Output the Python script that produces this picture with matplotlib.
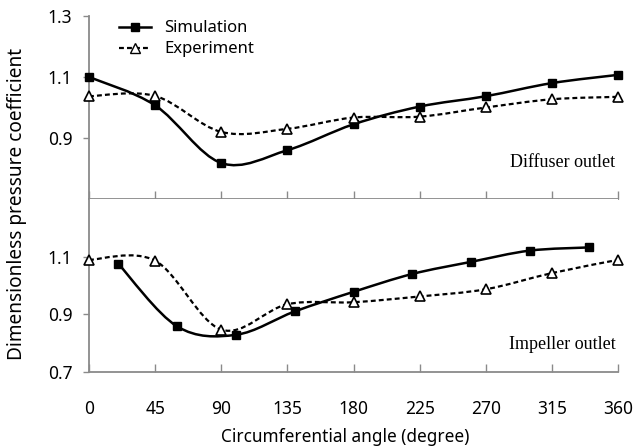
import numpy as np
import matplotlib
matplotlib.use("Agg")
import matplotlib.pyplot as plt
from matplotlib.path import Path
from matplotlib.patches import PathPatch

# Diffuser outlet
diff_angle = [0, 45, 90, 135, 180, 225, 270, 315, 360]
diff_sim = [1.10, 1.007, 0.818, 0.86, 0.945, 1.003, 1.037, 1.08, 1.107]
diff_exp = [1.037, 1.038, 0.92, 0.93, 0.967, 0.97, 1.0, 1.027, 1.035]

# Impeller outlet
imp_sim_angle = [20, 60, 100, 140, 180, 220, 260, 300, 340]
imp_sim = [1.075, 0.858, 0.829, 0.91, 0.978, 1.04, 1.082, 1.121, 1.132]
imp_exp_angle = [0, 45, 90, 135, 180, 225, 270, 315, 360]
imp_exp = [1.089, 1.086, 0.847, 0.935, 0.942, 0.962, 0.987, 1.043, 1.089]

xticks = [0, 45, 90, 135, 180, 225, 270, 315, 360]
top_yticks = [0.9, 1.1, 1.3]
bot_yticks = [0.7, 0.9, 1.1]

plt.rcParams['font.family'] = ['Noto Sans', 'DejaVu Sans']

W, H = 634, 448
fig = plt.figure(figsize=(W / 100, H / 100), dpi=100)

left, right = 89 / W, 618 / W
ax_top = fig.add_axes([left, 1 - 199 / H, right - left, (199 - 16) / H])
ax_bot = fig.add_axes([left, 1 - 372 / H, right - left, (372 - 199) / H])

spine_col = '#8a8a8a'
dash = (0, (2.2, 1.4))


def smooth_path(ax, xs, ys, **kw):
    """Draw a Catmull-Rom style smoothed curve through the points as Bezier segments."""
    pts = np.column_stack([xs, ys]).astype(float)
    n = len(pts)
    verts = [pts[0]]
    codes = [Path.MOVETO]
    for i in range(n - 1):
        p0 = pts[i - 1] if i > 0 else pts[i]
        p1 = pts[i]
        p2 = pts[i + 1]
        p3 = pts[i + 2] if i + 2 < n else pts[i + 1]
        c1 = p1 + (p2 - p0) / 6.0
        c2 = p2 - (p3 - p1) / 6.0
        verts += [c1, c2, p2]
        codes += [Path.CURVE4] * 3
    patch = PathPatch(Path(verts, codes), facecolor='none', **kw)
    ax.add_patch(patch)


def style_axes(ax, yticks):
    ax.set_xlim(0, 360)
    ax.set_ylim(0.7, 1.3)
    for s in ('top', 'right'):
        ax.spines[s].set_visible(False)
    for s in ('left', 'bottom'):
        ax.spines[s].set_color(spine_col)
        ax.spines[s].set_linewidth(1.3)
    ax.set_xticks(xticks)
    ax.set_yticks(yticks)
    ax.tick_params(axis='x', direction='in', length=6, width=1, color=spine_col)
    ax.tick_params(axis='y', direction='out', length=4, width=1, color=spine_col,
                   labelsize=12.5, pad=8)
    ax.set_yticklabels([f'{v:.1f}' for v in yticks])


for ax, yt in ((ax_top, top_yticks), (ax_bot, bot_yticks)):
    style_axes(ax, yt)

ax_top.tick_params(axis='x', labelbottom=False)
ax_bot.tick_params(axis='x', labelsize=12.5, pad=20)
ax_bot.set_xticklabels([str(v) for v in xticks])

# smoothed lines
smooth_path(ax_top, diff_angle, diff_sim, edgecolor='black', linewidth=1.8)
smooth_path(ax_top, diff_angle, diff_exp, edgecolor='black', linewidth=1.6, linestyle=dash)
smooth_path(ax_bot, imp_sim_angle, imp_sim, edgecolor='black', linewidth=1.8)
smooth_path(ax_bot, imp_exp_angle, imp_exp, edgecolor='black', linewidth=1.6, linestyle=dash)

# markers
for ax, xs, ys in ((ax_top, diff_angle, diff_sim), (ax_bot, imp_sim_angle, imp_sim)):
    ax.plot(xs, ys, linestyle='none', marker='s', markersize=6.2, color='black', clip_on=False, zorder=5)
for ax, xs, ys in ((ax_top, diff_angle, diff_exp), (ax_bot, imp_exp_angle, imp_exp)):
    ax.plot(xs, ys, linestyle='none', marker='^', markersize=7, markerfacecolor='white',
            markeredgecolor='black', markeredgewidth=1.2, clip_on=False, zorder=5)

# legend handles
h_sim, = ax_top.plot([], [], color='black', linewidth=1.8, marker='s', markersize=6, label='Simulation')
h_exp, = ax_top.plot([], [], color='black', linewidth=1.6, linestyle=dash, marker='^',
                     markersize=6.5, markerfacecolor='white', markeredgecolor='black', label='Experiment')
ax_top.legend(handles=[h_sim, h_exp], loc='upper left', bbox_to_anchor=(0.035, 1.04), frameon=False,
              fontsize=12, handlelength=1.9, handletextpad=0.8, labelspacing=0.3, borderpad=0.2)

ax_top.text(0.995, 0.2, 'Diffuser outlet', transform=ax_top.transAxes, ha='right', va='center',
            family=['Liberation Serif'], fontsize=13)
ax_bot.text(0.995, 0.16, 'Impeller outlet', transform=ax_bot.transAxes, ha='right', va='center',
            family=['Liberation Serif'], fontsize=13)

fig.text(17 / W, 1 - 204 / H, 'Dimensionless pressure coefficient', rotation=90, ha='center',
         va='center', fontsize=13.7)
fig.text(345 / W, 1 - 437 / H, 'Circumferential angle (degree)', ha='center', va='center',
         fontsize=12.4)

fig.savefig('out.png', dpi=100)
